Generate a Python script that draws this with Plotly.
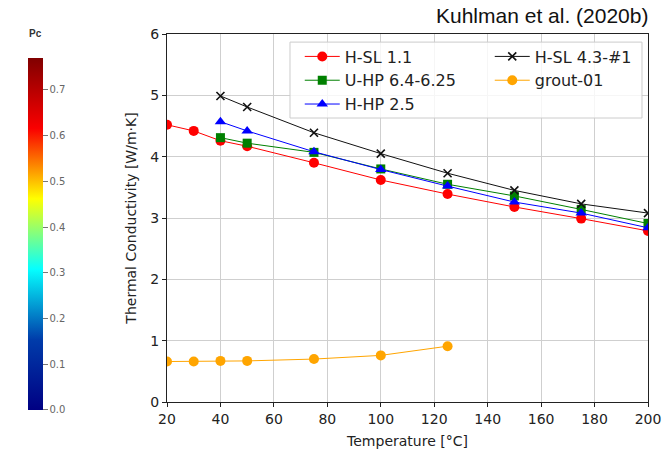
import plotly.graph_objects as go

# ---- data ----
temp_hsl11 = [20, 30, 40, 50, 75, 100, 125, 150, 175, 200]
k_hsl11 = [4.52, 4.42, 4.26, 4.17, 3.90, 3.62, 3.39, 3.18, 2.99, 2.79]

temp_main = [40, 50, 75, 100, 125, 150, 175, 200]
k_uhp = [4.31, 4.22, 4.07, 3.80, 3.55, 3.36, 3.14, 2.91]
k_hhp = [4.57, 4.42, 4.08, 3.79, 3.52, 3.26, 3.08, 2.84]
k_hsl43 = [4.99, 4.81, 4.39, 4.05, 3.73, 3.45, 3.23, 3.08]

temp_grout = [20, 30, 40, 50, 75, 100, 125]
k_grout = [0.66, 0.66, 0.67, 0.67, 0.70, 0.76, 0.91]

pc_range = [0.0, 0.77]
pc_ticks = [0.0, 0.1, 0.2, 0.3, 0.4, 0.5, 0.6, 0.7]

x_ticks = [20, 40, 60, 80, 100, 120, 140, 160, 180, 200]
y_ticks = [0, 1, 2, 3, 4, 5, 6]

FONT = "DejaVu Sans"

fig = go.Figure()

series = [
    ("H-SL 1.1", temp_hsl11, k_hsl11, "#ff0000", "circle", 10, "legend"),
    ("U-HP 6.4-6.25", temp_main, k_uhp, "#008000", "square", 9, "legend"),
    ("H-HP 2.5", temp_main, k_hhp, "#0000ff", "triangle-up", 10, "legend"),
    ("H-SL 4.3-#1", temp_main, k_hsl43, "#111111", "x-thin", 8, "legend2"),
    ("grout-01", temp_grout, k_grout, "#ffa500", "circle", 10, "legend2"),
]
for name, xs, ys, col, sym, sz, leg in series:
    fig.add_trace(go.Scatter(
        x=xs, y=ys, name=name, mode="lines+markers", legend=leg,
        legendgroup=name,
        line=dict(color=col, width=1),
        marker=dict(color=col, symbol=sym, size=sz,
                    line=dict(color=col, width=1.6 if sym == "x-thin" else 0)),
    ))

# colorbar (Pc) on the far left
fig.add_trace(go.Scatter(
    x=[None, None], y=[None, None], mode="markers", showlegend=False,
    hoverinfo="skip",
    marker=dict(
        color=pc_range, cmin=pc_range[0], cmax=pc_range[1],
        colorscale="Jet", showscale=True,
        colorbar=dict(
            x=-0.289, xanchor="left", xref="paper",
            y=-0.0217, yanchor="bottom", yref="paper",
            len=352, lenmode="pixels", thickness=15,
            outlinewidth=0,
            tickvals=pc_ticks, ticktext=[f"{v:.1f}" for v in pc_ticks],
            ticks="outside", ticklen=5, tickcolor="#777777",
            tickfont=dict(family=FONT, size=10, color="#666666"),
            xpad=0, ypad=0,
        ),
    ),
))

axis_common = dict(
    showgrid=True, gridcolor="#cfcfcf", gridwidth=1,
    showline=True, linecolor="#222222", linewidth=1, mirror=True,
    ticks="outside", ticklen=4, tickcolor="#222222",
    tickfont=dict(family=FONT, size=14, color="#222222"),
    zeroline=False,
)

fig.update_xaxes(range=[20, 200], tickvals=x_ticks,
                 title=dict(text="Temperature [°C]", standoff=10,
                            font=dict(family=FONT, size=14, color="#222222")),
                 **axis_common)
fig.update_yaxes(range=[0, 6], tickvals=y_ticks,
                 title=dict(text="Thermal Conductivity [W/m·K]", standoff=10,
                            font=dict(family=FONT, size=14, color="#222222")),
                 **axis_common)

legend_common = dict(
    orientation="v", yanchor="top", xanchor="left",
    bgcolor="rgba(0,0,0,0)", borderwidth=0,
    font=dict(family=FONT, size=16, color="#222222"),
    traceorder="grouped", tracegroupgap=0, itemwidth=35,
)

fig.update_layout(
    width=666, height=454,
    margin=dict(l=167, r=18, t=34, b=52, autoexpand=False),
    paper_bgcolor="white", plot_bgcolor="white",
    showlegend=True,
    legend=dict(x=0.276, y=0.985, **legend_common),
    legend2=dict(x=0.671, y=0.985, **legend_common),
    shapes=[dict(
        type="rect", xref="paper", yref="paper", layer="above",
        x0=0.2557, x1=0.9875, y0=0.7717, y1=0.978,
        line=dict(color="#cccccc", width=1),
        fillcolor="rgba(255,255,255,0.8)",
    )],
    annotations=[
        dict(text="Kuhlman et al. (2020b)", xref="paper", yref="paper",
             x=1.005, y=1.0, xanchor="right", yanchor="bottom", yshift=5,
             showarrow=False,
             font=dict(family="Liberation Sans", size=21, color="#111111")),
        dict(text="<b>Pc</b>", xref="paper", yref="paper",
             x=-0.274, y=1.0027, xanchor="center", yanchor="middle",
             showarrow=False,
             font=dict(family="Liberation Sans", size=10, color="#333333")),
    ],
)

fig.write_html("out.html", config={"displayModeBar": False},
               post_script="document.body.style.margin='0';")
